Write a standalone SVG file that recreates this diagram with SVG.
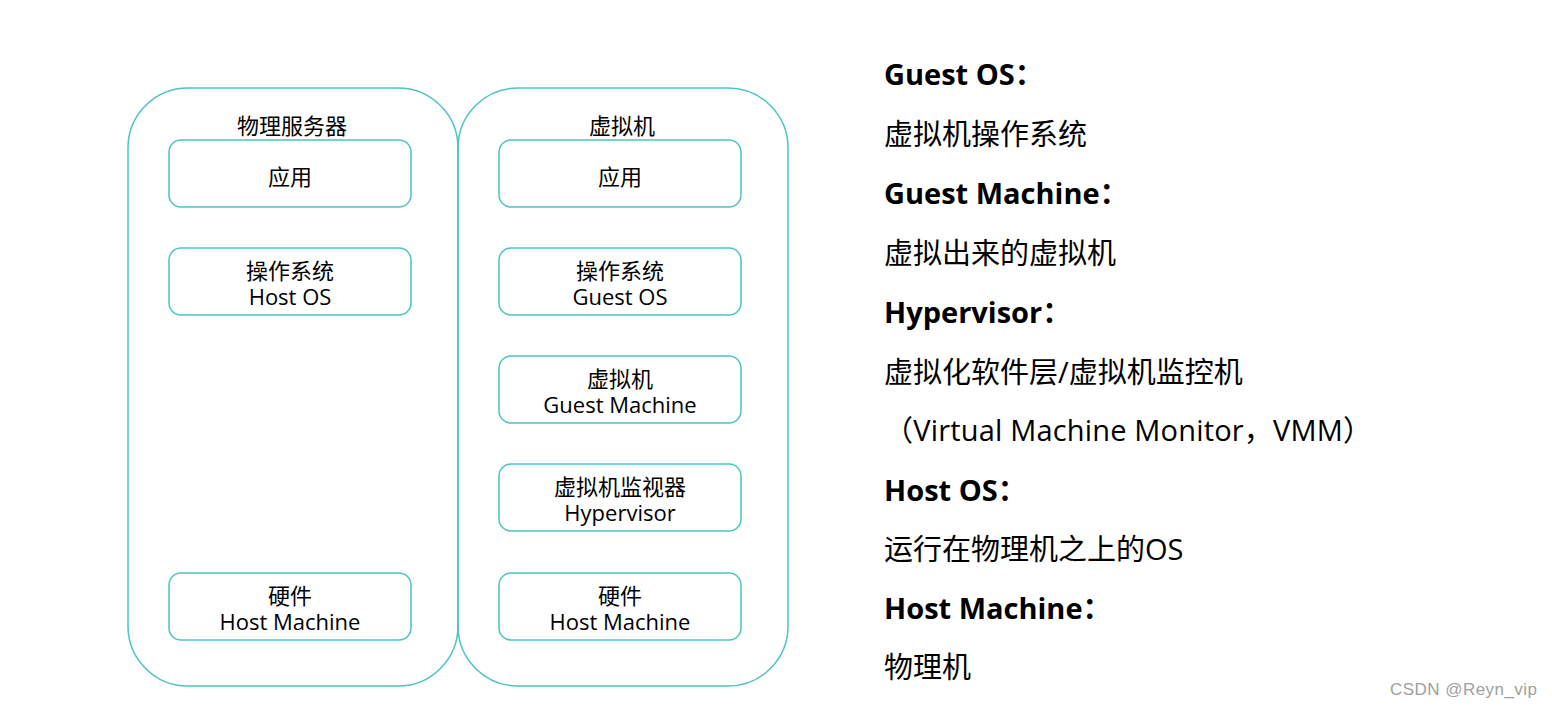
<svg xmlns="http://www.w3.org/2000/svg" width="1552" height="708" viewBox="0 0 1552 708">
<style>
.outer{fill:none;stroke:#4ec3c3;stroke-width:1.5}
.inner{fill:#fff;stroke:#4ec3c3;stroke-width:1.5}
.t{font-family:"Open Sans","Noto Sans CJK SC",sans-serif;font-size:22px;fill:#000;text-anchor:middle}
.h{font-family:"Open Sans","Noto Sans CJK SC",sans-serif;font-size:29px;font-weight:bold;fill:#000}
.d{font-family:"Open Sans","Noto Sans CJK SC",sans-serif;font-size:29px;fill:#000}
.wm{font-family:"Liberation Sans",Arial,sans-serif;font-size:17px;fill:#a0a0a0}
</style>
<rect width="1552" height="708" fill="#fff"/>
<g id="physical-server">
<rect class="outer" x="128" y="88" width="330" height="598" rx="60" ry="60"/>
<text class="t" x="292" y="134">物理服务器</text>
</g>
<g id="virtual-machine">
<rect class="outer" x="458" y="88" width="330" height="598" rx="60" ry="60"/>
<text class="t" x="622" y="134">虚拟机</text>
</g>
<g id="p-app"><rect class="inner" x="169" y="140" width="242" height="67" rx="12"/><text class="t" x="290" y="185">应用</text></g>
<g id="p-os"><rect class="inner" x="169" y="248" width="242" height="67" rx="12"/><text class="t" x="290" y="279">操作系统</text><text class="t" x="290" y="305">Host OS</text></g>
<g id="p-hw"><rect class="inner" x="169" y="573" width="242" height="67" rx="12"/><text class="t" x="290" y="604">硬件</text><text class="t" x="290" y="630">Host Machine</text></g>
<g id="v-app"><rect class="inner" x="499" y="140" width="242" height="67" rx="12"/><text class="t" x="620" y="185">应用</text></g>
<g id="v-os"><rect class="inner" x="499" y="248" width="242" height="67" rx="12"/><text class="t" x="620" y="279">操作系统</text><text class="t" x="620" y="305">Guest OS</text></g>
<g id="v-gm"><rect class="inner" x="499" y="356" width="242" height="67" rx="12"/><text class="t" x="620" y="387">虚拟机</text><text class="t" x="620" y="413">Guest Machine</text></g>
<g id="v-hyp"><rect class="inner" x="499" y="464" width="242" height="67" rx="12"/><text class="t" x="620" y="495">虚拟机监视器</text><text class="t" x="620" y="521">Hypervisor</text></g>
<g id="v-hw"><rect class="inner" x="499" y="573" width="242" height="67" rx="12"/><text class="t" x="620" y="604">硬件</text><text class="t" x="620" y="630">Host Machine</text></g>
<g id="connectors"></g>
<g id="legend">
<text class="h" x="884" y="85">Guest OS：</text>
<text class="d" x="884" y="145">虚拟机操作系统</text>
<text class="h" x="884" y="204">Guest Machine：</text>
<text class="d" x="884" y="264">虚拟出来的虚拟机</text>
<text class="h" x="884" y="323">Hypervisor：</text>
<text class="d" x="884" y="383">虚拟化软件层/虚拟机监控机</text>
<text class="d" x="884" y="441" textLength="488" lengthAdjust="spacing">（Virtual Machine Monitor，VMM）</text>
<text class="h" x="884" y="501">Host OS：</text>
<text class="d" x="884" y="560">运行在物理机之上的OS</text>
<text class="h" x="884" y="619">Host Machine：</text>
<text class="d" x="884" y="678">物理机</text>
</g>
<text class="wm" x="1390" y="695" textLength="147" lengthAdjust="spacing">CSDN @Reyn_vip</text>
</svg>
